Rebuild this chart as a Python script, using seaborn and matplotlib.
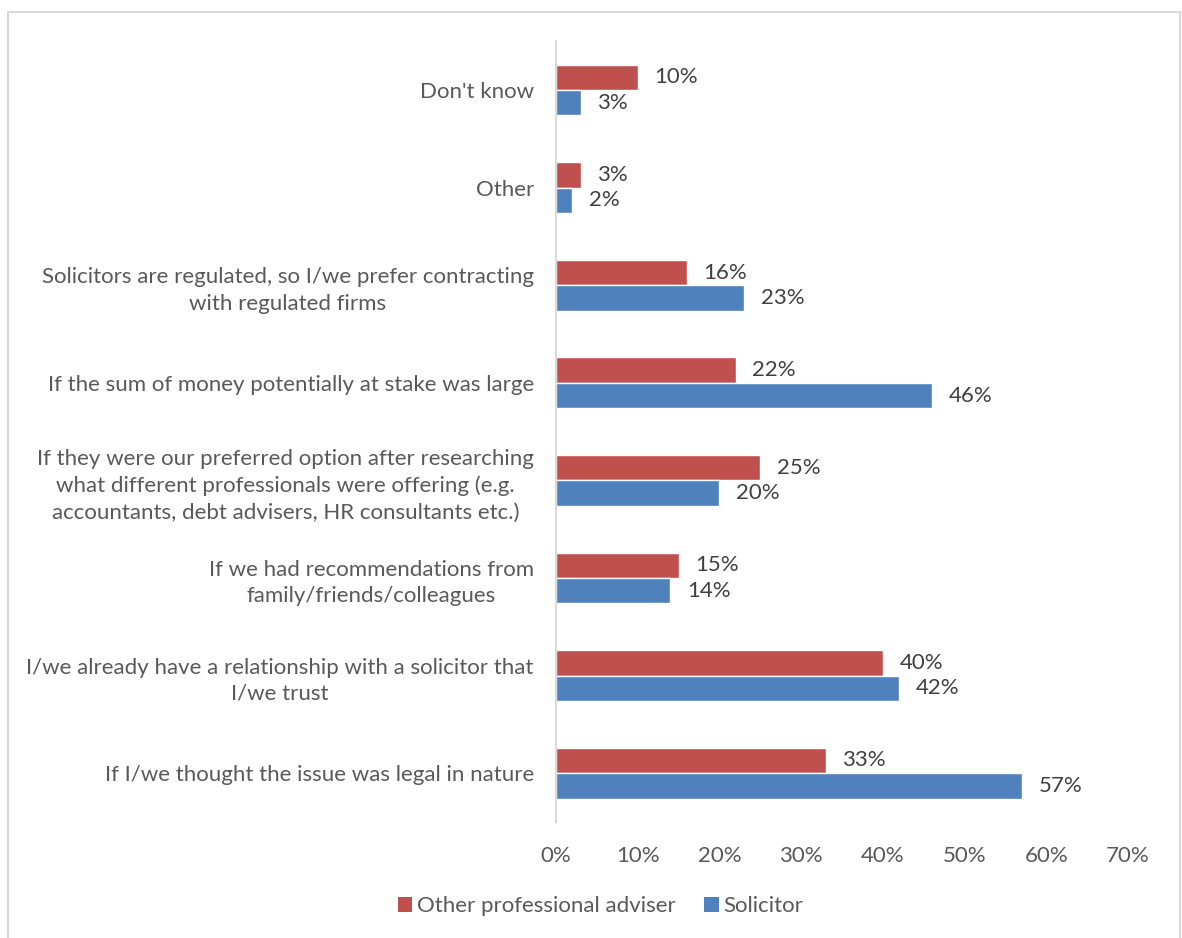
import matplotlib
matplotlib.use("Agg")
import matplotlib.pyplot as plt
from matplotlib.patches import Rectangle, Patch
import pandas as pd
import seaborn as sns

categories = [
    "Don't know",
    "Other",
    "Solicitors are regulated, so I/we prefer contracting\nwith regulated firms",
    "If the sum of money potentially at stake was large",
    "If they were our preferred option after researching\nwhat different professionals were offering (e.g.\naccountants, debt advisers, HR consultants etc.)",
    "If we had recommendations from\nfamily/friends/colleagues",
    "I/we already have a relationship with a solicitor that\nI/we trust",
    "If I/we thought the issue was legal in nature",
]
other_adviser = [10, 3, 16, 22, 25, 15, 40, 33]
solicitor = [3, 2, 23, 46, 20, 14, 42, 57]
series_names = ["Other professional adviser", "Solicitor"]
x_ticks = [0, 10, 20, 30, 40, 50, 60, 70]

RED = "#C0504D"
BLUE = "#4F81BD"
TEXT = "#595959"
GRID = "#D9D9D9"

sns.set_theme(style="white")
plt.rcParams["font.family"] = ["Lato", "DejaVu Sans"]

df = pd.DataFrame({
    "category": categories * 2,
    "value": other_adviser + solicitor,
    "series": [series_names[0]] * len(categories) + [series_names[1]] * len(categories),
})

fig = plt.figure(figsize=(11.82, 9.38), dpi=100)
ax = fig.add_axes([0.4704, 0.1237, 0.9543 - 0.4704, 0.956 - 0.1237])

sns.barplot(
    data=df, y="category", x="value", hue="series", order=categories,
    hue_order=series_names, palette=[RED, BLUE], orient="h",
    width=0.52, saturation=1, ax=ax, legend=False,
)

for container in ax.containers:
    ax.bar_label(container, labels=[f"{v:.0f}%" for v in container.datavalues],
                 padding=12, fontsize=16, color="#404040")

ax.set_xlim(0, 70)
ax.set_xticks(x_ticks)
ax.set_xticklabels([f"{t}%" for t in x_ticks], fontsize=16, color=TEXT)
ax.set_ylim(len(categories) - 0.5, -0.5)
ax.set_xlabel("")
ax.set_ylabel("")
ax.set_yticks(range(len(categories)))
ax.set_yticklabels(categories, fontsize=16, color=TEXT, multialignment="center",
                   linespacing=1.4)
ax.tick_params(axis="y", length=0, pad=16)
ax.tick_params(axis="x", length=0, pad=17)

for side in ["top", "right", "bottom"]:
    ax.spines[side].set_visible(False)
ax.spines["left"].set_color(GRID)
ax.spines["left"].set_linewidth(1.5)

handles = [Patch(facecolor=RED, edgecolor="none"), Patch(facecolor=BLUE, edgecolor="none")]
fig.legend(handles, series_names, loc="center", bbox_to_anchor=(0.508, 0.034),
           ncol=2, frameon=False, fontsize=16, labelcolor=TEXT,
           handlelength=0.65, handleheight=0.65, handletextpad=0.2, columnspacing=1.3)

fig.patches.append(Rectangle((8 / 1182, -0.01), (1180 - 8) / 1182, 1 - 12 / 938 + 0.01,
                             transform=fig.transFigure, fill=False,
                             edgecolor=GRID, linewidth=1.5))

fig.savefig("out.png", dpi=100, facecolor="white")
